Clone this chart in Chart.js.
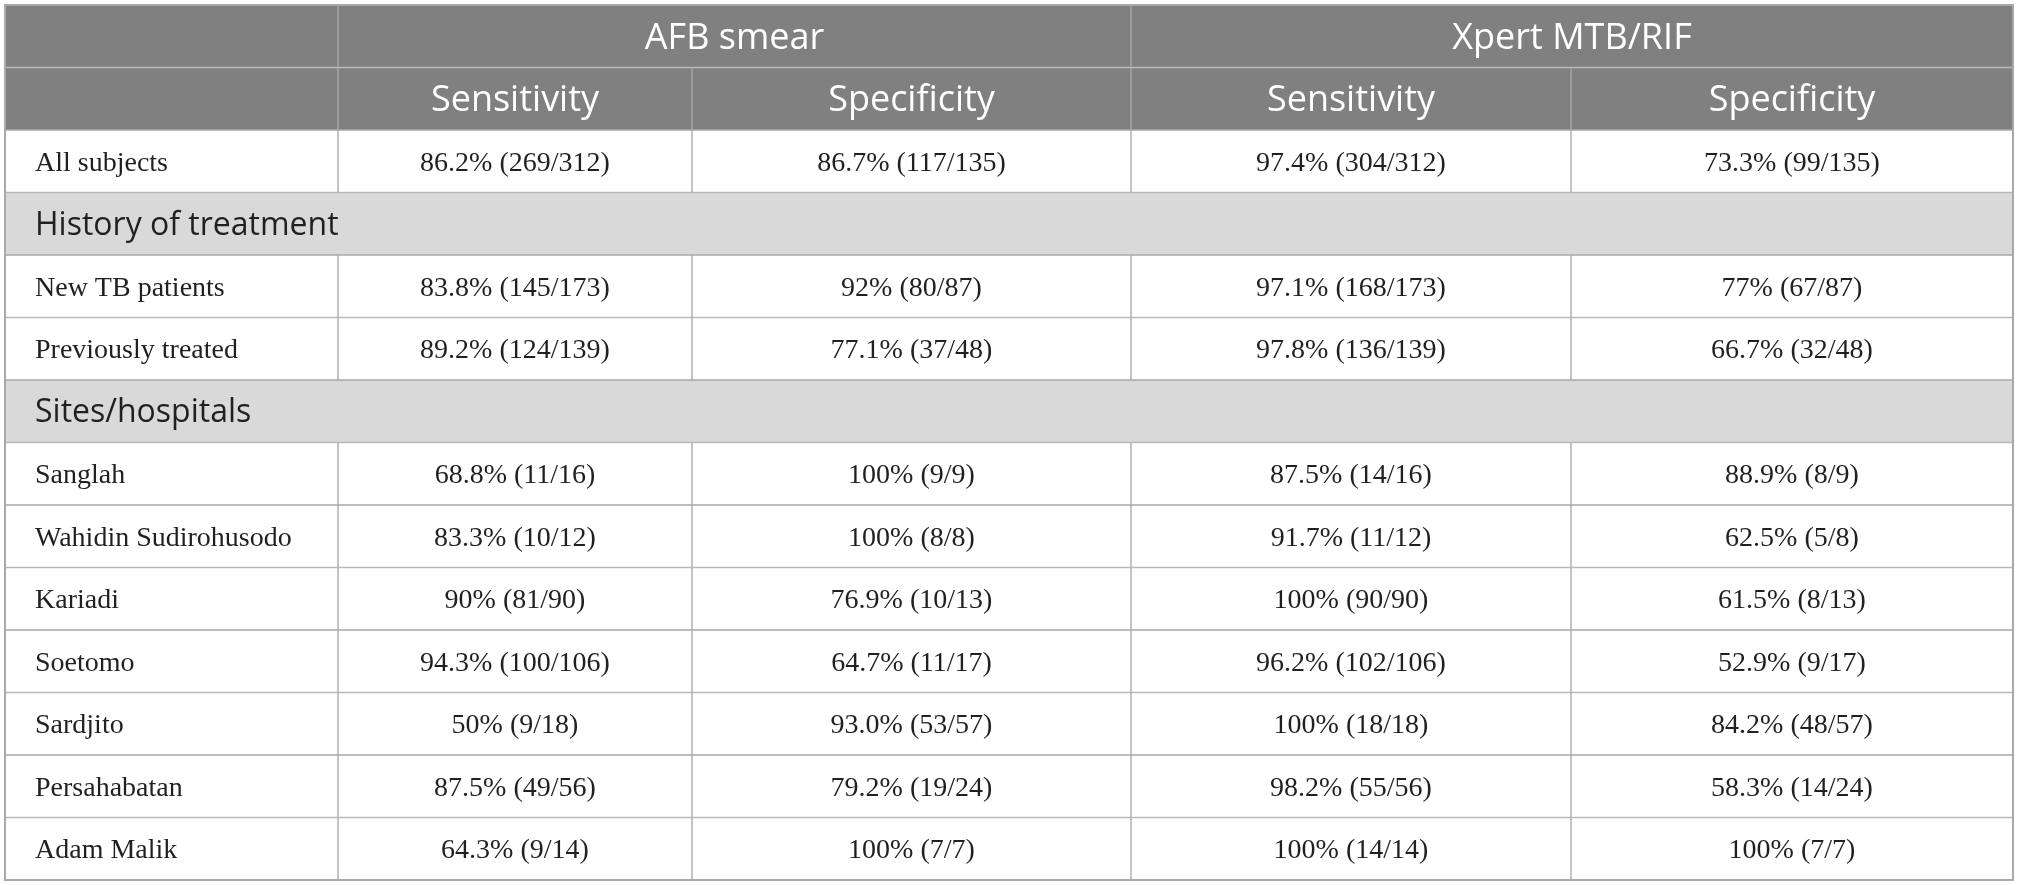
<!DOCTYPE html>
<html>
<head>
<meta charset="utf-8">
<script src="https://cdn.jsdelivr.net/npm/chart.js@4.4.0/dist/chart.umd.min.js"></script>
<style>
  html, body { margin: 0; padding: 0; background: #ffffff; }
  #wrap { width: 2018px; height: 885px; }
</style>
</head>
<body>
<div id="wrap"><canvas id="c" width="2018" height="885"></canvas></div>
<script>
// ---------------- DATA ----------------
const groupHeaders = ['AFB smear', 'Xpert MTB/RIF'];
const measureHeaders = ['Sensitivity', 'Specificity'];
const rowLabels = ['All subjects', 'History of treatment', 'New TB patients', 'Previously treated',
  'Sites/hospitals', 'Sanglah', 'Wahidin Sudirohusodo', 'Kariadi', 'Soetomo', 'Sardjito',
  'Persahabatan', 'Adam Malik'];
const sectionRows = ['History of treatment', 'Sites/hospitals'];
const afbSensitivity = ['86.2% (269/312)', null, '83.8% (145/173)', '89.2% (124/139)', null,
  '68.8% (11/16)', '83.3% (10/12)', '90% (81/90)', '94.3% (100/106)', '50% (9/18)', '87.5% (49/56)', '64.3% (9/14)'];
const afbSpecificity = ['86.7% (117/135)', null, '92% (80/87)', '77.1% (37/48)', null,
  '100% (9/9)', '100% (8/8)', '76.9% (10/13)', '64.7% (11/17)', '93.0% (53/57)', '79.2% (19/24)', '100% (7/7)'];
const xpertSensitivity = ['97.4% (304/312)', null, '97.1% (168/173)', '97.8% (136/139)', null,
  '87.5% (14/16)', '91.7% (11/12)', '100% (90/90)', '96.2% (102/106)', '100% (18/18)', '98.2% (55/56)', '100% (14/14)'];
const xpertSpecificity = ['73.3% (99/135)', null, '77% (67/87)', '66.7% (32/48)', null,
  '88.9% (8/9)', '62.5% (5/8)', '61.5% (8/13)', '52.9% (9/17)', '84.2% (48/57)', '58.3% (14/24)', '100% (7/7)'];

// ---------------- LAYOUT ----------------
const COL_EDGES = [0, 333, 687, 1126, 1566, 2008];   // column boundaries on the x scale
const X_MAX = 2008;
const COLORS = { header: '#808080', section: '#d9d9d9', body: '#ffffff', line: '#a9a9a9',
  headerText: '#ffffff', sectionText: '#231f20', bodyText: '#231f20' };

// Build table rows
const bodyCols = [afbSensitivity, afbSpecificity, xpertSensitivity, xpertSpecificity];
const rows = [];
rows.push({ kind: 'group', cells: [
  { c0: 0, c1: 1, text: '' },
  { c0: 1, c1: 3, text: groupHeaders[0] },
  null,
  { c0: 3, c1: 5, text: groupHeaders[1] },
  null ] });
rows.push({ kind: 'measure', cells: [
  { c0: 0, c1: 1, text: '' },
  { c0: 1, c1: 2, text: measureHeaders[0] },
  { c0: 2, c1: 3, text: measureHeaders[1] },
  { c0: 3, c1: 4, text: measureHeaders[0] },
  { c0: 4, c1: 5, text: measureHeaders[1] } ] });
rowLabels.forEach((lab, i) => {
  if (sectionRows.includes(lab)) {
    rows.push({ kind: 'section', cells: [{ c0: 0, c1: 5, text: lab, left: true }, null, null, null, null] });
  } else {
    rows.push({ kind: 'body', cells: [{ c0: 0, c1: 1, text: lab, left: true }].concat(
      bodyCols.map((col, k) => ({ c0: k + 1, c1: k + 2, text: col[i] }))) });
  }
});
const yLabels = rows.map((r, i) => 'r' + i);

const bgFor = kind => kind === 'section' ? COLORS.section : (kind === 'body' ? COLORS.body : COLORS.header);

const datasets = [0, 1, 2, 3, 4].map(c => ({
  data: rows.map(r => r.cells[c] ? [COL_EDGES[r.cells[c].c0], COL_EDGES[r.cells[c].c1]] : null),
  cellInfo: rows.map(r => r.cells[c] ? Object.assign({ kind: r.kind }, r.cells[c]) : null),
  backgroundColor: rows.map(r => bgFor(r.kind)),
  borderColor: COLORS.line,
  borderWidth: 1,
  borderSkipped: false,
  grouped: false,
  barPercentage: 1,
  categoryPercentage: 1
}));

const textPlugin = {
  id: 'cellText',
  afterDatasetsDraw(chart) {
    const ctx = chart.ctx;
    chart.data.datasets.forEach((ds, d) => {
      const meta = chart.getDatasetMeta(d);
      meta.data.forEach((el, i) => {
        const info = ds.cellInfo[i];
        if (!info || !info.text) return;
        const p = el.getProps(['x', 'base', 'y'], true);
        const left = Math.min(p.x, p.base), right = Math.max(p.x, p.base);
        ctx.save();
        if (info.kind === 'group' || info.kind === 'measure') {
          ctx.font = '36px "Open Sans"';
          ctx.fillStyle = COLORS.headerText;
        } else if (info.kind === 'section') {
          ctx.font = '32px "Open Sans"';
          ctx.fillStyle = COLORS.sectionText;
        } else {
          ctx.font = '28px "Liberation Serif"';
          ctx.fillStyle = COLORS.bodyText;
        }
        ctx.textBaseline = 'middle';
        if (info.left) {
          ctx.textAlign = 'left';
          ctx.fillText(info.text, left + 30, p.y + 2);
        } else {
          ctx.textAlign = 'center';
          ctx.fillText(info.text, (left + right) / 2, p.y + 2);
        }
        ctx.restore();
      });
    });
  },
  afterDraw(chart) {
    const a = chart.chartArea, ctx = chart.ctx;
    ctx.save();
    ctx.strokeStyle = COLORS.line;
    ctx.lineWidth = 2;
    ctx.strokeRect(a.left, a.top, a.right - a.left, a.bottom - a.top);
    ctx.restore();
  }
};

new Chart(document.getElementById('c'), {
  type: 'bar',
  data: { labels: yLabels, datasets },
  options: {
    indexAxis: 'y',
    responsive: false,
    animation: false,
    devicePixelRatio: 1,
    layout: { padding: { left: 5, right: 5, top: 5, bottom: 5 } },
    scales: {
      x: { type: 'linear', min: 0, max: X_MAX, display: false },
      y: { type: 'category', display: false, offset: true }
    },
    plugins: { legend: { display: false }, tooltip: { enabled: false } }
  },
  plugins: [textPlugin]
});
</script>
</body>
</html>
